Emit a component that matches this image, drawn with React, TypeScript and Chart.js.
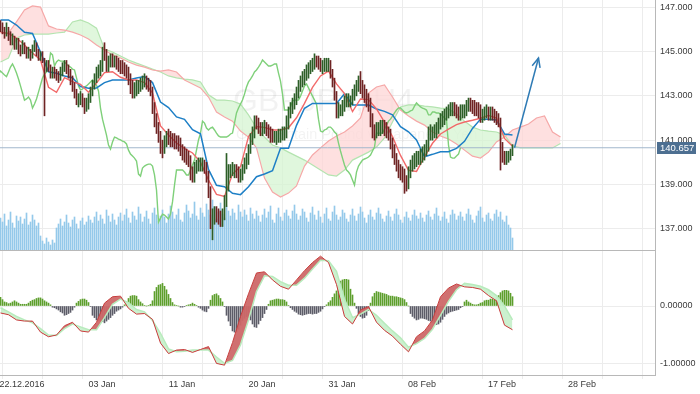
import React, { useEffect, useRef } from "react";
import { Chart, registerables } from "chart.js";
Chart.register(...registerables);

// ---------- data ----------
const X_LABELS = ["22.12.2016", "03 Jan", "11 Jan", "20 Jan", "31 Jan", "08 Feb", "17 Feb", "28 Feb"];
const FIRST_GRID_BAR = 10.75;
const GRID_STEP_BARS = 20;
const GRID_COUNT = 16;
const PRICE_TICKS = [137, 139, 141, 143, 145, 147];
const MACD_TICKS = [0, -1];
const LAST_PRICE = 140.657;
const FIRST_OPEN = 146.2;
const LINE_STEP = 4; // indicator lines sampled every 4 bars
const CHIKOU_SHIFT = 26;
const ARROW = [{ x: 257, y: 140.66 }, { x: 269, y: 144.71 }];

const CLOSE = [
  146.1, 146.0, 145.8, 146.0, 145.7, 145.5, 145.6, 145.3, 145.4, 145.2,
  145.0, 145.3, 145.1, 144.9, 145.0, 144.8, 145.1, 145.3, 145.0, 144.8,
  144.9, 144.6, 144.2, 144.5, 144.3, 144.0, 144.12, 144.03, 143.94, 143.87,
  144.08, 144.3, 144.44, 144.26, 144.03, 143.76, 143.45, 143.13, 142.81, 142.86,
  142.95, 142.81, 142.45, 142.63, 142.86, 143.17, 143.49, 143.81, 143.99, 144.08,
  144.26, 144.94, 144.85, 144.35, 144.53, 144.62, 144.57, 144.57, 144.53, 144.44,
  144.35, 144.3, 144.21, 144.17, 143.81, 143.45, 143.26, 143.31, 143.4, 143.45,
  143.54, 143.63, 143.72, 143.58, 143.49, 143.22, 142.45, 141.95, 141.59, 141.23,
  140.78, 140.6, 140.92, 141.14, 141.1, 141.05, 141.01, 140.96, 140.92, 140.83,
  140.55, 140.37, 140.28, 140.19, 140.06, 139.47, 139.38, 139.74, 139.83, 139.88,
  139.92, 139.92, 139.83, 139.43, 138.75, 137.3, 137.48, 137.66, 137.62, 137.53,
  137.44, 137.66, 138.21, 138.97, 139.65, 139.65, 139.65, 139.65, 139.56, 139.43,
  139.43, 139.65, 139.88, 140.1, 140.55, 141.01, 141.32, 141.86, 141.77, 141.55,
  141.46, 141.55, 141.59, 141.46, 141.32, 141.19, 141.14, 141.14, 141.14, 141.14,
  141.19, 141.28, 141.32, 141.77, 142.23, 142.45, 142.63, 142.81, 143.08, 143.4,
  143.63, 143.76, 143.9, 144.08, 144.17, 144.3, 144.44, 144.62, 144.53, 144.44,
  144.35, 144.35, 144.39, 144.44, 144.44, 144.03, 143.67, 143.08, 142.36, 142.36,
  142.36, 142.5, 142.77, 142.81, 142.81, 142.81, 142.99, 143.22, 143.45, 143.54,
  143.36, 143.17, 142.99, 142.81, 142.63, 141.95, 141.41, 141.37, 141.46, 141.5,
  141.59, 141.59, 141.5, 141.37, 141.28, 140.87, 140.51, 140.19, 139.88, 139.65,
  139.56, 139.43, 139.2, 138.97, 139.56, 139.83, 139.97, 140.1, 140.15, 140.19,
  140.24, 140.33, 140.51, 140.69, 141.32, 141.32, 141.32, 141.32, 141.5, 141.68,
  141.86, 141.95, 142.09, 142.23, 142.36, 142.45, 142.45, 142.36, 142.27, 142.23,
  142.27, 142.32, 142.36, 142.54, 142.68, 142.59, 142.5, 142.45, 142.41, 142.36,
  142.14, 142.14, 142.27, 142.27, 142.23, 142.23, 142.18, 142.09, 142.0, 141.91,
  140.78, 140.24, 140.19, 140.19, 140.28, 140.37, 140.66,
];
const HIGH = [
  146.4, 146.3, 146.1, 146.3, 146.1, 145.9, 145.8, 145.7, 145.6, 145.6,
  145.3, 145.5, 145.4, 145.2, 145.2, 145.1, 145.3, 145.5, 145.4, 145.1,
  145.0, 145.0, 144.7, 144.6, 144.6, 144.4, 144.3, 144.3, 144.2, 144.1,
  144.3, 144.5, 144.6, 144.6, 144.4, 144.2, 143.9, 143.6, 143.3, 143.1,
  143.2, 143.1, 142.9, 142.9, 143.1, 143.4, 143.7, 144.0, 144.3, 144.4,
  144.6, 145.2, 145.4, 145.1, 144.8, 144.9, 144.9, 144.8, 144.8, 144.7,
  144.6, 144.6, 144.5, 144.4, 144.3, 144.0, 143.7, 143.6, 143.7, 143.7,
  143.8, 143.9, 144.0, 143.9, 143.8, 143.7, 143.4, 142.7, 142.2, 141.8,
  141.4, 141.0, 141.2, 141.4, 141.5, 141.4, 141.3, 141.3, 141.2, 141.2,
  141.1, 140.8, 140.7, 140.6, 140.5, 140.3, 139.8, 140.0, 140.1, 140.2,
  140.2, 140.2, 140.1, 140.0, 139.6, 138.9, 137.9, 138.0, 138.0, 137.9,
  137.8, 137.9, 138.5, 140.4, 139.9, 139.9, 140.0, 139.9, 139.9, 139.8,
  139.7, 139.9, 140.2, 140.4, 140.8, 141.3, 141.6, 142.1, 142.1, 142.0,
  141.8, 141.8, 141.9, 141.8, 141.7, 141.6, 141.5, 141.4, 141.4, 141.5,
  141.5, 141.6, 141.6, 142.1, 142.5, 142.7, 142.9, 143.1, 143.4, 143.7,
  143.9, 144.1, 144.2, 144.4, 144.5, 144.6, 144.7, 144.9, 144.8, 144.8,
  144.7, 144.6, 144.7, 144.7, 144.7, 144.6, 144.2, 143.8, 143.2, 142.7,
  142.6, 142.8, 143.0, 143.1, 143.1, 143.0, 143.3, 143.5, 143.7, 143.9,
  144.1, 143.7, 143.5, 143.3, 143.1, 142.9, 142.2, 141.7, 141.8, 141.8,
  141.9, 141.9, 141.9, 141.8, 141.6, 141.5, 141.1, 140.8, 140.4, 140.1,
  139.9, 139.8, 139.7, 139.4, 139.8, 140.1, 140.3, 140.4, 140.5, 140.5,
  140.6, 140.7, 140.8, 141.0, 141.6, 141.7, 141.6, 141.7, 141.8, 142.0,
  142.2, 142.3, 142.4, 142.5, 142.6, 142.7, 142.7, 142.7, 142.6, 142.5,
  142.6, 142.6, 142.6, 142.8, 142.9, 142.9, 142.8, 142.8, 142.7, 142.7,
  142.6, 142.4, 142.5, 142.6, 142.5, 142.5, 142.5, 142.4, 142.3, 142.2,
  142.0, 140.9, 140.5, 140.5, 140.5, 140.6, 140.8,
];
const LOW = [
  145.9, 145.8, 145.6, 145.7, 145.5, 145.3, 145.3, 145.1, 145.1, 144.9,
  144.8, 144.9, 144.9, 144.7, 144.7, 144.6, 144.7, 145.0, 144.8, 144.6,
  144.6, 144.5, 142.1, 144.1, 144.1, 143.8, 143.8, 143.8, 143.7, 143.6,
  143.7, 143.9, 144.1, 144.0, 143.8, 143.5, 143.2, 142.9, 142.6, 142.5,
  142.6, 142.5, 142.2, 142.3, 142.4, 142.7, 143.0, 143.3, 143.6, 143.8,
  143.9, 144.1, 144.6, 144.1, 144.1, 144.3, 144.3, 144.3, 144.2, 144.1,
  144.0, 144.0, 143.9, 143.8, 143.5, 143.1, 142.9, 142.9, 143.0, 143.1,
  143.2, 143.3, 143.4, 143.3, 143.2, 143.0, 142.2, 141.6, 141.3, 140.9,
  140.4, 140.2, 140.4, 140.7, 140.8, 140.7, 140.7, 140.6, 140.6, 140.5,
  140.3, 140.1, 140.0, 139.9, 139.8, 139.2, 139.1, 139.1, 139.5, 139.6,
  139.6, 139.6, 139.5, 139.1, 138.4, 137.0, 136.5, 137.2, 137.3, 137.2,
  137.1, 137.1, 137.4, 138.0, 138.7, 139.3, 139.4, 139.3, 139.3, 139.1,
  139.1, 139.2, 139.5, 139.7, 139.9, 140.4, 140.8, 141.1, 141.5, 141.3,
  141.2, 141.2, 141.3, 141.2, 141.1, 140.9, 140.9, 140.9, 140.8, 140.9,
  140.9, 141.0, 141.0, 141.1, 141.5, 142.0, 142.2, 142.4, 142.6, 142.9,
  143.2, 143.4, 143.5, 143.7, 143.8, 144.0, 144.1, 144.2, 144.3, 144.2,
  144.1, 144.0, 144.1, 144.1, 144.1, 143.8, 143.4, 142.8, 142.0, 142.0,
  142.1, 142.1, 142.3, 142.5, 142.5, 142.5, 142.6, 142.8, 143.0, 143.2,
  143.1, 142.9, 142.7, 142.5, 142.3, 141.6, 141.1, 141.0, 141.1, 141.2,
  141.2, 141.3, 141.2, 141.1, 141.0, 140.6, 140.2, 139.9, 139.6, 139.3,
  139.2, 139.1, 138.6, 138.7, 138.8, 139.3, 139.6, 139.7, 139.8, 139.9,
  139.9, 140.0, 140.1, 140.3, 140.5, 141.0, 141.0, 141.1, 141.1, 141.3,
  141.5, 141.6, 141.7, 141.9, 142.0, 142.1, 142.1, 142.1, 142.0, 141.9,
  141.9, 142.0, 142.0, 142.1, 142.3, 142.3, 142.2, 142.1, 142.1, 142.0,
  141.8, 141.8, 141.9, 142.0, 141.9, 141.9, 141.9, 141.8, 141.7, 141.6,
  139.65, 140.0, 139.9, 139.9, 140.0, 140.1, 140.3,
];
const VOLUME = [
  32, 28, 36, 24, 30, 38, 27, 22, 34, 29,
  33, 26, 31, 37, 25, 28, 35, 30, 24, 27,
  14, 9, 6, 12, 8, 5, 10, 7, 22, 26,
  31, 24, 28, 35, 27, 23, 30, 33, 26, 21,
  29, 32, 25, 28, 34, 30, 27, 33, 38, 29,
  35, 31, 26, 40, 34, 28, 36, 30, 25, 33,
  37, 29, 35, 41, 32, 27, 38, 34, 30, 43,
  36, 28, 33, 39, 31, 26, 37, 42, 35, 29,
  34, 40, 33, 27, 36, 44, 38, 31, 35, 41,
  30, 28, 37, 45, 39, 32, 36, 48, 34, 30,
  42, 37, 33, 46, 40, 35, 50, 43, 31, 38,
  47, 36, 32, 44, 39, 34, 41, 37, 30, 45,
  38, 33, 40, 35, 29, 42, 36, 31, 39, 34,
  28, 35, 41, 32, 38, 44, 30, 27, 36, 42,
  33, 29, 37, 40, 34, 31, 39, 45, 36, 30,
  34, 41, 38, 32, 28, 37, 43, 35, 30, 39,
  33, 27, 36, 42, 31, 29, 38, 44, 35, 30,
  33, 40, 37, 31, 28, 35, 41, 34, 29, 36,
  43, 38, 32, 27, 35, 40, 33, 30, 37, 42,
  36, 31, 28, 34, 39, 33, 29, 36, 41, 35,
  30, 27, 33, 38, 32, 29, 35, 40, 34, 31,
  37, 32, 28, 35, 39, 33, 30, 36, 42, 34,
  29, 33, 38, 31, 27, 35, 40, 36, 30, 34,
  38, 33, 29, 36, 41, 35, 30, 27, 34, 39,
  43, 32, 28, 35, 37, 31, 29, 36, 40, 33,
  38, 30, 28, 34, 25, 22, 12,
];
const HIST = [
  0.15, 0.11, 0.07, 0.06, 0.04, 0.05, 0.07, 0.09, 0.07, 0.05,
  0.03, 0.03, 0.03, 0.03, 0.05, 0.08, 0.1, 0.11, 0.13, 0.14,
  0.14, 0.12, 0.09, 0.07, 0.05, 0.02, -0.02, -0.03, -0.05, -0.07,
  -0.1, -0.12, -0.16, -0.15, -0.13, -0.11, -0.07, -0.02, 0.05, 0.08,
  0.11, 0.12, 0.12, 0.1, 0.06, -0.01, -0.16, -0.2, -0.24, -0.25,
  -0.26, -0.27, -0.29, -0.26, -0.23, -0.2, -0.16, -0.13, -0.09, -0.07,
  -0.05, -0.02, 0.02, 0.06, 0.13, 0.17, 0.18, 0.18, 0.17, 0.11,
  0.07, 0.04, 0.01, 0.0, 0.01, 0.03, 0.09, 0.25, 0.32, 0.36,
  0.37, 0.39, 0.34, 0.28, 0.2, 0.13, 0.06, 0.02, 0.01, 0.0,
  -0.02, -0.02, -0.01, 0.01, 0.02, 0.03, 0.05, 0.03, 0.01, -0.02,
  -0.04, -0.07, -0.09, -0.1, -0.04, 0.1, 0.18, 0.2, 0.21, 0.18,
  0.13, 0.07, -0.01, -0.16, -0.26, -0.34, -0.43, -0.45, -0.45, -0.4,
  -0.33, -0.25, -0.21, -0.18, -0.2, -0.24, -0.31, -0.36, -0.37, -0.31,
  -0.25, -0.2, -0.13, -0.06, 0.03, 0.09, 0.1, 0.11, 0.12, 0.12,
  0.11, 0.11, 0.1, 0.07, 0.01, -0.03, -0.06, -0.09, -0.11, -0.14,
  -0.15, -0.16, -0.15, -0.14, -0.13, -0.13, -0.14, -0.13, -0.13, -0.11,
  -0.09, -0.05, -0.01, 0.02, 0.06, 0.09, 0.15, 0.21, 0.26, 0.37,
  0.43, 0.45, 0.46, 0.46, 0.45, 0.29, 0.19, 0.05, -0.04, -0.13,
  -0.18, -0.21, -0.2, -0.16, -0.08, 0.05, 0.16, 0.22, 0.25, 0.24,
  0.23, 0.22, 0.21, 0.2, 0.18, 0.17, 0.17, 0.16, 0.16, 0.15,
  0.14, 0.13, 0.11, 0.06, 0.0, -0.13, -0.18, -0.21, -0.24, -0.23,
  -0.21, -0.21, -0.22, -0.23, -0.25, -0.26, -0.28, -0.3, -0.32, -0.31,
  -0.28, -0.23, -0.18, -0.14, -0.12, -0.1, -0.09, -0.08, -0.07, -0.06,
  -0.03, -0.01, 0.07, 0.1, 0.07, 0.05, 0.03, 0.02, 0.02, 0.03,
  0.05, 0.06, 0.09, 0.1, 0.1, 0.12, 0.12, 0.1, 0.14, 0.18,
  0.23, 0.26, 0.27, 0.27, 0.26, 0.22, 0.16,
];
const MACD = [
  -0.12, -0.15, -0.24, -0.26, -0.26, -0.45, -0.53, -0.5, -0.34, -0.28,
  -0.43, -0.45, -0.28, 0.05, 0.16, 0.17, -0.04, -0.14, -0.13, -0.23,
  -0.64, -0.82, -0.76, -0.75, -0.8, -0.75, -0.7, -0.99, -1.02, -0.63,
  -0.18, 0.21, 0.57, 0.59, 0.45, 0.34, 0.29, 0.45, 0.61, 0.75,
  0.86, 0.75, 0.37, -0.18, -0.31, -0.07, -0.01, -0.28, -0.42, -0.52,
  -0.66, -0.79, -0.53, -0.43, -0.24, 0.16, 0.31, 0.38, 0.33, 0.32,
  0.29, 0.18, 0.09, -0.33, -0.41,
];
const SIGNAL = [
  -0.03, -0.1, -0.18, -0.24, -0.29, -0.39, -0.5, -0.51, -0.39, -0.31,
  -0.36, -0.41, -0.41, -0.2, 0.03, 0.12, 0.06, -0.06, -0.1, -0.25,
  -0.47, -0.74, -0.79, -0.78, -0.76, -0.76, -0.76, -0.88, -0.99, -0.94,
  -0.67, -0.24, 0.25, 0.52, 0.51, 0.42, 0.36, 0.36, 0.48, 0.64,
  0.79, 0.78, 0.6, 0.12, -0.2, -0.14, -0.06, -0.16, -0.3, -0.43,
  -0.55, -0.71, -0.65, -0.56, -0.4, -0.16, 0.08, 0.28, 0.39, 0.37,
  0.34, 0.28, 0.18, 0.0, -0.24,
];
const TENKAN = [
  145.88, 145.82, 145.61, 145.3, 144.94, 144.62, 143.39, 143.16, 143.82, 143.64,
  143.52, 143.16, 143.58, 144.05, 144.09, 143.84, 143.72, 143.72, 143.6, 143.14,
  141.64, 141.23, 140.87, 140.63, 140.42, 140.01, 139.2, 138.55, 138.46, 139.47,
  139.8, 141.16, 141.61, 141.58, 141.46, 141.46, 141.56, 142.01, 142.66, 143.38,
  143.9, 144.12, 143.54, 143.1, 142.29, 142.86, 142.83, 142.41, 141.82, 141.16,
  140.31, 139.64, 139.59, 140.25, 140.86, 141.28, 141.5, 141.7, 141.82, 141.9,
  141.99, 142.12, 142.0, 141.08, 140.72,
];
const KIJUN = [
  146.43, 146.43, 146.2, 145.87, 145.82, 144.98, 144.09, 144.02, 143.9, 143.82,
  143.42, 143.34, 143.36, 143.6, 143.72, 143.72, 143.72, 143.81, 143.87, 143.6,
  142.72, 142.47, 142.05, 141.94, 141.47, 141.29, 139.68, 138.96, 138.9, 138.6,
  138.54, 138.9, 139.35, 139.47, 139.62, 140.63, 140.63, 141.67, 142.44, 142.66,
  142.66, 142.66, 142.66, 143.1, 142.59, 142.59, 142.59, 142.41, 142.3, 142.14,
  141.61, 141.38, 141.01, 140.25, 140.36, 140.48, 140.48, 140.63, 140.95, 141.53,
  141.95, 141.95, 141.91, 141.28, 141.23,
];
const SPAN_A = [
  144.53, 144.71, 145.61, 145.75, 145.79, 145.79, 145.79, 145.84, 145.88, 146.34,
  146.43, 146.29, 146.06, 145.12, 144.98, 144.8, 144.62, 144.48, 144.35, 144.21,
  144.08, 143.9, 143.81, 143.76, 143.72, 143.63, 143.05, 142.81, 142.81, 142.77,
  142.63, 142.14, 141.55, 141.14, 140.78, 140.65, 140.46, 140.28, 140.1, 139.88,
  139.65, 139.43, 139.38, 139.65, 140.1, 140.28, 140.46, 140.69, 141.1, 141.82,
  142.5, 142.59, 142.59, 142.54, 142.5, 142.45, 142.41, 142.18, 141.86, 141.59,
  141.46, 141.41, 141.37, 141.23, 140.74, 140.65, 140.65, 140.65, 140.65, 140.65,
  140.85,
];
const SPAN_B = [
  145.84, 145.84, 146.34, 146.88, 147.06, 147.01, 146.16, 146.02, 145.97, 145.88,
  145.75, 145.57, 145.3, 145.07, 144.85, 144.71, 144.53, 144.39, 144.3, 144.17,
  144.12, 144.17, 144.08, 143.72, 143.54, 143.36, 142.95, 142.27, 142.05, 141.86,
  141.41, 141.14, 140.65, 139.29, 138.66, 138.43, 138.61, 138.93, 139.83, 140.33,
  140.65, 140.96, 141.19, 141.37, 141.64, 142.0, 143.13, 143.4, 143.49, 142.95,
  142.36, 142.09, 141.86, 141.68, 141.37, 141.19, 141.05, 140.83, 140.55, 140.28,
  140.19, 140.46, 140.92, 141.14, 141.46, 141.59, 141.73, 142.0, 142.09, 141.37,
  141.14,
];

// ---------- styling ----------
const FONT = "'Liberation Sans', Arial, sans-serif";
const GRID = "#ececec";
const AXIS = "#b8b8b8";
const TEXT = "#3a3a3a";

function zeroPad(s: any) {
  s.paddingTop = 0;
  s.paddingBottom = 0;
  s.paddingLeft = 0;
  s.paddingRight = 0;
}

const overlayPlugin = {
  id: "overlay",
  beforeDatasetsDraw(chart: any) {
    const { ctx } = chart;
    ctx.save();
    ctx.fillStyle = "rgba(0,0,0,0.05)";
    ctx.textBaseline = "alphabetic";
    ctx.font = `32px ${FONT}`;
    ctx.fillText("GBPJPY, H4", 233, 111);
    ctx.font = `14.5px ${FONT}`;
    ctx.fillText("Great Britain Pound vs Japanese Yen", 236, 139);
    ctx.restore();
  },
  afterDraw(chart: any) {
    const { ctx } = chart;
    const xs = chart.scales.x;
    const ys = chart.scales.y;
    const y2 = chart.scales.y2;
    ctx.save();
    // pane divider
    ctx.strokeStyle = AXIS;
    ctx.lineWidth = 1;
    const dy = Math.round(y2.top) + 0.5;
    ctx.beginPath();
    ctx.moveTo(xs.left, dy);
    ctx.lineTo(xs.right, dy);
    ctx.stroke();
    // arrow head
    const meta = chart.getDatasetMeta(8);
    if (meta && meta.data.length === 2) {
      const p0 = meta.data[0];
      const p1 = meta.data[1];
      const ang = Math.atan2(p1.y - p0.y, p1.x - p0.x);
      const len = 10;
      const spread = 0.42;
      ctx.strokeStyle = "#2f7bb5";
      ctx.lineWidth = 1.5;
      ctx.beginPath();
      ctx.moveTo(p1.x - len * Math.cos(ang - spread), p1.y - len * Math.sin(ang - spread));
      ctx.lineTo(p1.x, p1.y);
      ctx.lineTo(p1.x - len * Math.cos(ang + spread), p1.y - len * Math.sin(ang + spread));
      ctx.stroke();
    }
    // last price label
    const py = ys.getPixelForValue(LAST_PRICE);
    ctx.fillStyle = "#4d6f91";
    ctx.fillRect(xs.right + 2, Math.round(py) - 6, 39, 12);
    ctx.fillStyle = "#ffffff";
    ctx.font = `9.5px ${FONT}`;
    ctx.textBaseline = "middle";
    ctx.textAlign = "left";
    ctx.fillText(LAST_PRICE.toFixed(3), xs.right + 5, Math.round(py) + 0.5);
    ctx.restore();
  },
};

export default function App() {
  const ref = useRef<HTMLCanvasElement | null>(null);
  useEffect(() => {
    document.body.style.margin = "0";
    const canvas = ref.current!;
    const prevClose = (i: number) => (i === 0 ? FIRST_OPEN : CLOSE[i - 1]);
    const candleData = CLOSE.map((c, i) => ({ x: i, y: [LOW[i], HIGH[i]] }));
    const candleColors = CLOSE.map((c, i) => (c >= prevClose(i) ? "#2c5e27" : "#6e2323"));
    const line = (arr: number[]) => arr.map((v, k) => ({ x: k * LINE_STEP, y: v }));
    const tickFont = { family: FONT, size: 9 };

    const datasets: any[] = [
      { // 0 volume
        type: "bar", yAxisID: "yv", order: 20, grouped: false, barThickness: 1,
        data: VOLUME.map((v, i) => ({ x: i, y: v })), backgroundColor: "#94c9ea", borderWidth: 0,
      },
      { // 1 senkou B
        type: "line", yAxisID: "y", order: 18, data: line(SPAN_B),
        borderColor: "#f6a8a8", borderWidth: 1.2, pointRadius: 0, fill: false,
      },
      { // 2 senkou A with cloud fill
        type: "line", yAxisID: "y", order: 19, data: line(SPAN_A),
        borderColor: "#b4e4b0", borderWidth: 1.2, pointRadius: 0,
        fill: { target: 1, above: "rgba(214,244,210,0.75)", below: "rgba(253,214,214,0.75)" },
      },
      { // 3 last price line
        type: "line", yAxisID: "y", order: 17,
        data: [{ x: -0.25, y: LAST_PRICE }, { x: 327.25, y: LAST_PRICE }],
        borderColor: "#a2b7cc", borderWidth: 1, pointRadius: 0, fill: false,
      },
      { // 4 chikou
        type: "line", yAxisID: "y", order: 16,
        data: CLOSE.map((c, i) => ({ x: i - CHIKOU_SHIFT, y: c })),
        borderColor: "#7fd07a", borderWidth: 1.4, pointRadius: 0, fill: false,
      },
      { // 5 kijun
        type: "line", yAxisID: "y", order: 14, data: line(KIJUN),
        borderColor: "#1d7fc6", borderWidth: 1.5, pointRadius: 0, fill: false,
      },
      { // 6 tenkan
        type: "line", yAxisID: "y", order: 13, data: line(TENKAN),
        borderColor: "#f26a6a", borderWidth: 1.4, pointRadius: 0, fill: false,
      },
      { // 7 candles
        type: "bar", yAxisID: "y", order: 2, grouped: false, barThickness: 1,
        data: candleData, backgroundColor: candleColors, borderWidth: 0,
      },
      { // 8 arrow
        type: "line", yAxisID: "y", order: 1, data: ARROW,
        borderColor: "#2f7bb5", borderWidth: 1.5, pointRadius: 0, fill: false,
      },
      { // 9 histogram
        type: "bar", yAxisID: "y2", order: 12, grouped: false, barThickness: 1,
        data: HIST.map((v, i) => ({ x: i, y: v })),
        backgroundColor: HIST.map((v) => (v >= 0 ? "#5d9f2c" : "#5c5c68")), borderWidth: 0,
      },
      { // 10 macd
        type: "line", yAxisID: "y2", order: 10, data: line(MACD),
        borderColor: "#c83d3d", borderWidth: 1, pointRadius: 0, fill: false,
      },
      { // 11 signal with fill
        type: "line", yAxisID: "y2", order: 11, data: line(SIGNAL),
        borderColor: "#b8ebbd", borderWidth: 1.5, pointRadius: 0,
        fill: { target: 10, above: "rgba(200,240,204,0.95)", below: "rgba(205,104,104,0.95)" },
      },
    ];

    const chart = new Chart(canvas, {
      type: "line",
      data: { datasets },
      plugins: [overlayPlugin],
      options: {
        responsive: false,
        animation: false,
        devicePixelRatio: 1,
        events: [],
        layout: { padding: 0 },
        elements: { line: { tension: 0 } },
        plugins: { legend: { display: false }, tooltip: { enabled: false } },
        scales: {
          x: {
            type: "linear", position: "bottom", min: -0.25, max: 327.25, offset: false,
            grid: { color: GRID, tickLength: 4, tickColor: GRID },
            border: { color: AXIS },
            afterBuildTicks: (s: any) => {
              s.ticks = Array.from({ length: GRID_COUNT }, (_, k) => ({ value: FIRST_GRID_BAR + GRID_STEP_BARS * k }));
            },
            ticks: {
              autoSkip: false, maxRotation: 0, minRotation: 0, padding: 0, color: TEXT, font: tickFont,
              callback: (_v: any, idx: number) => (idx % 2 === 0 ? X_LABELS[idx / 2] ?? "" : ""),
            },
            afterFit: (s: any) => { s.height = 19; zeroPad(s); },
          },
          y: {
            type: "linear", position: "right", stack: "panes", stackWeight: 2,
            min: 136.04, max: 147.33,
            grid: { color: GRID, drawTicks: false },
            border: { color: AXIS },
            afterBuildTicks: (s: any) => { s.ticks = PRICE_TICKS.map((v) => ({ value: v })); },
            ticks: { padding: 5, color: TEXT, font: tickFont, callback: (v: any) => Number(v).toFixed(3) },
            afterFit: (s: any) => { s.width = 45; zeroPad(s); },
          },
          y2: {
            type: "linear", position: "right", stack: "panes", stackWeight: 1,
            min: -1.19, max: 0.966,
            grid: { color: GRID, drawTicks: false },
            border: { color: AXIS },
            afterBuildTicks: (s: any) => { s.ticks = MACD_TICKS.map((v) => ({ value: v })); },
            ticks: { padding: 5, color: TEXT, font: tickFont, callback: (v: any) => Number(v).toFixed(5) },
            afterFit: (s: any) => { s.width = 45; zeroPad(s); },
          },
          yv: {
            type: "linear", position: "left", display: false, min: -125, max: 250,
          },
        },
      } as any,
    });
    return () => chart.destroy();
  }, []);
  return <canvas ref={ref} width={700} height={394} style={{ display: "block" }} />;
}
